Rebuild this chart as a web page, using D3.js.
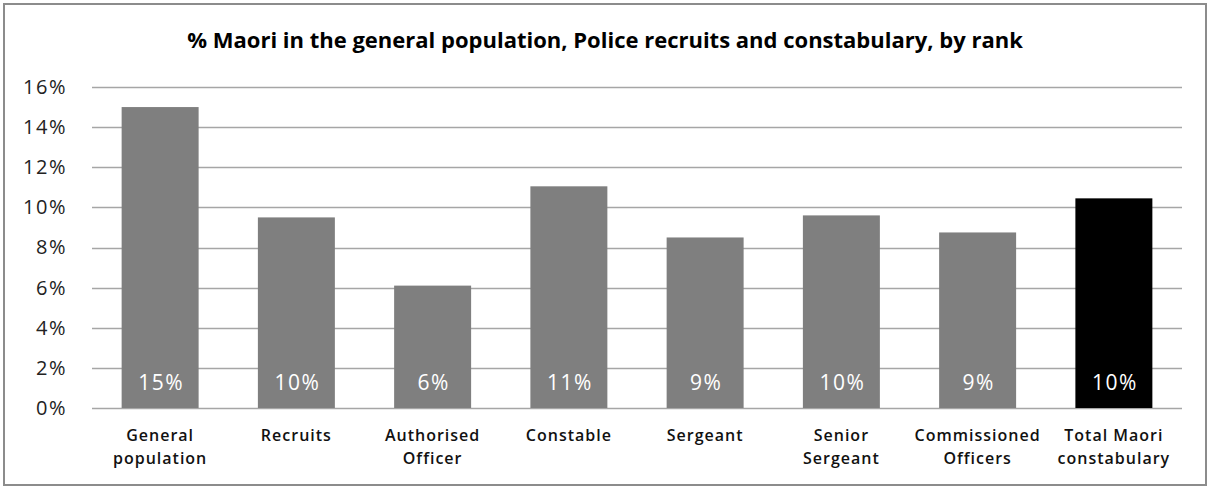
<!DOCTYPE html>
<html>
<head>
<meta charset="utf-8">
<script src="https://cdn.jsdelivr.net/npm/d3@7"></script>
<style>
  body { margin: 0; background: #fff; }
  text { font-family: "Open Sans", Lato, sans-serif; }
</style>
</head>
<body>
<div id="chart"></div>
<script>
// categories and values (percent Maori)
var categories = ["General population", "Recruits", "Authorised Officer", "Constable",
                  "Sergeant", "Senior Sergeant", "Commissioned Officers", "Total Maori constabulary"];
var categoryLines = [["General", "population"], ["Recruits"], ["Authorised", "Officer"], ["Constable"],
                     ["Sergeant"], ["Senior", "Sergeant"], ["Commissioned", "Officers"], ["Total Maori", "constabulary"]];
var values = [15.0, 9.5, 6.1, 11.05, 8.5, 9.6, 8.75, 10.45];
var valueLabels = ["15%", "10%", "6%", "11%", "9%", "10%", "9%", "10%"];
var yTicks = [0, 2, 4, 6, 8, 10, 12, 14, 16];

var W = 1210, H = 487;
var margin = { top: 87, right: 28, bottom: 79, left: 92 },
    width = W - margin.left - margin.right,
    height = H - margin.top - margin.bottom;

var root = d3.select("#chart")
    .append("svg")
    .attr("width", W)
    .attr("height", H);

// outer frame
root.append("rect")
    .attr("x", 4).attr("y", 4)
    .attr("width", W - 8).attr("height", H - 6)
    .attr("fill", "#fff")
    .attr("stroke", "#8c8c8c")
    .attr("stroke-width", 2);

// title
root.append("text")
    .attr("x", W / 2)
    .attr("y", 48)
    .attr("text-anchor", "middle")
    .style("font-size", "22px")
    .style("font-weight", "bold")
    .style("fill", "#000")
    .text("% Maori in the general population,  Police recruits and constabulary, by rank");

var svg = root.append("g")
    .attr("transform", "translate(" + margin.left + "," + margin.top + ")");

var x = d3.scaleBand()
    .domain(categories)
    .range([0, width])
    .paddingInner(0.435)
    .paddingOuter(0.2175);

var y = d3.scaleLinear()
    .domain([0, 16])
    .range([height, 0]);

// gridlines
svg.append("g")
    .selectAll("line")
    .data(yTicks)
    .enter()
    .append("line")
    .attr("x1", 0)
    .attr("x2", width)
    .attr("y1", function (d) { return Math.round(y(d)) + 0.5; })
    .attr("y2", function (d) { return Math.round(y(d)) + 0.5; })
    .attr("stroke", "#a6a6a6")
    .attr("stroke-width", 1.5);

// Y axis labels
var yAxis = svg.append("g")
    .call(d3.axisLeft(y).tickValues(yTicks).tickSize(0).tickPadding(25)
        .tickFormat(function (d) { return d + "%"; }));
yAxis.select(".domain").remove();
yAxis.selectAll("text")
    .style("font-family", "'Open Sans', Lato, sans-serif")
    .style("font-size", "20px")
    .style("letter-spacing", "1.5px")
    .style("fill", "#222");

// bars
svg.append("g")
    .selectAll("rect")
    .data(categories)
    .enter()
    .append("rect")
    .attr("x", function (d) { return x(d); })
    .attr("y", function (d, i) { return y(values[i]); })
    .attr("width", x.bandwidth())
    .attr("height", function (d, i) { return height - y(values[i]); })
    .attr("fill", function (d, i) { return i === categories.length - 1 ? "#000" : "#7f7f7f"; });

// value labels inside bars
svg.append("g")
    .selectAll("text")
    .data(categories)
    .enter()
    .append("text")
    .attr("x", function (d) { return x(d) + x.bandwidth() / 2 + 1; })
    .attr("y", height - 18)
    .attr("text-anchor", "middle")
    .style("font-size", "21px")
    .style("letter-spacing", "1.5px")
    .style("fill", "#fff")
    .text(function (d, i) { return valueLabels[i]; });

// X axis category labels
var xl = svg.append("g")
    .selectAll("text")
    .data(categories)
    .enter()
    .append("text")
    .attr("x", function (d) { return x(d) + x.bandwidth() / 2; })
    .attr("y", height + 33)
    .attr("text-anchor", "middle")
    .style("font-size", "16px")
    .style("font-weight", "600")
    .style("letter-spacing", "1px")
    .style("fill", "#111");
xl.selectAll("tspan")
    .data(function (d, i) { return categoryLines[i]; })
    .enter()
    .append("tspan")
    .attr("x", function () { return d3.select(this.parentNode).attr("x"); })
    .attr("dy", function (d, i) { return i === 0 ? 0 : 23; })
    .text(function (d) { return d; });
</script>
</body>
</html>
